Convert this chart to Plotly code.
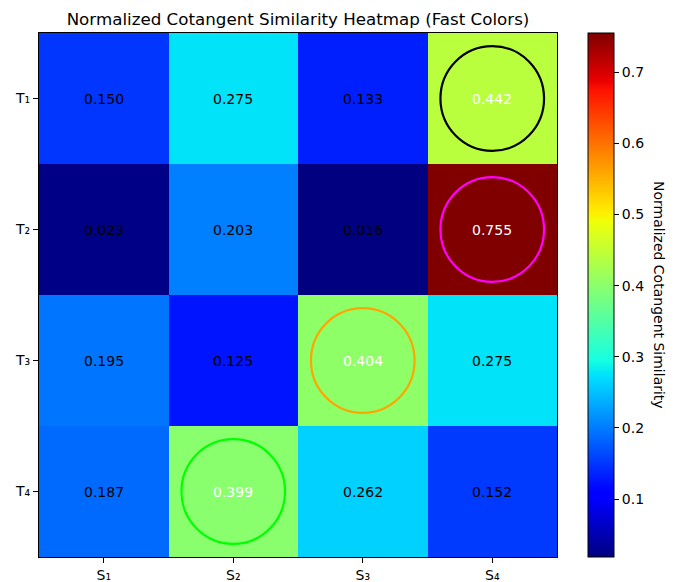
import plotly.graph_objects as go

# ---- data ----
rows = ["T₁", "T₂", "T₃", "T₄"]
cols = ["S₁", "S₂", "S₃", "S₄"]
row_T1 = [0.150, 0.275, 0.133, 0.442]
row_T2 = [0.023, 0.203, 0.016, 0.755]
row_T3 = [0.195, 0.125, 0.404, 0.275]
row_T4 = [0.187, 0.399, 0.262, 0.152]
values = [row_T1, row_T2, row_T3, row_T4]
circle_colors = ["black", "magenta", "orange", "lime"]
cbar_ticks = [0.1, 0.2, 0.3, 0.4, 0.5, 0.6, 0.7]
color_range = [0.0186, 0.755]

# ---- matplotlib 'jet' colormap as a plotly colorscale ----
seg = {
    "r": [(0, 0), (0.35, 0), (0.66, 1), (0.89, 1), (1, 0.5)],
    "g": [(0, 0), (0.125, 0), (0.375, 1), (0.64, 1), (0.91, 0), (1, 0)],
    "b": [(0, 0.5), (0.11, 1), (0.34, 1), (0.65, 0), (1, 0)],
}


def interp(pts, t):
    for (x0, y0), (x1, y1) in zip(pts[:-1], pts[1:]):
        if x0 <= t <= x1:
            return y0 + (y1 - y0) * (t - x0) / (x1 - x0) if x1 > x0 else y1
    return pts[-1][1]


stops = sorted({p[0] for ch in seg.values() for p in ch})
jet = [[t, "rgb(%d,%d,%d)" % tuple(round(255 * interp(seg[c], t)) for c in "rgb")] for t in stops]

xi = list(range(len(cols)))
yi = list(range(len(rows)))

fig = go.Figure(
    go.Heatmap(
        z=values,
        x=xi,
        y=yi,
        colorscale=jet,
        zmin=color_range[0],
        zmax=color_range[1],
        colorbar=dict(
            thickness=26,
            len=1,
            lenmode="fraction",
            x=1.06,
            xanchor="left",
            y=0.5,
            yanchor="middle",
            outlinecolor="black",
            outlinewidth=1,
            tickvals=cbar_ticks,
            ticktext=["%.1f" % v for v in cbar_ticks],
            ticks="outside",
            ticklen=5,
            tickcolor="black",
            tickfont=dict(size=14, color="black"),
            xpad=0,
            ypad=0,
        ),
        showscale=True,
        hoverongaps=False,
    )
)

annotations = []
shapes = []
for r, row in enumerate(values):
    mx = max(row)
    for c, v in enumerate(row):
        is_max = v == mx
        annotations.append(
            dict(
                x=c, y=r, xref="x", yref="y", text="%.3f" % v, showarrow=False,
                font=dict(size=14, color="white" if is_max else "black"),
            )
        )
        if is_max:
            shapes.append(
                dict(
                    type="circle", xref="x", yref="y",
                    x0=c - 0.4, x1=c + 0.4, y0=r - 0.4, y1=r + 0.4,
                    line=dict(color=circle_colors[r], width=2.2),
                )
            )

annotations.append(
    dict(
        x=(659 - 39) / 518, y=0.5, xref="paper", yref="paper", xanchor="center", yanchor="middle",
        text="Normalized Cotangent Similarity",
        showarrow=False, textangle=90, font=dict(size=14, color="black"),
    )
)

fig.update_layout(
    width=681,
    height=582,
    margin=dict(l=39, r=124, t=33, b=25, autoexpand=False),
    paper_bgcolor="white",
    plot_bgcolor="white",
    font=dict(family="DejaVu Sans", color="black"),
    title=dict(
        text="Normalized Cotangent Similarity Heatmap (Fast Colors)",
        x=(39 + 557) / 2 / 681, xanchor="center", y=1 - 19 / 582, yanchor="middle",
        font=dict(size=16.7, color="black"),
    ),
    annotations=annotations,
    shapes=shapes,
)

fig.update_xaxes(
    range=[-0.5, 3.5], tickvals=xi, ticktext=cols, ticks="outside", ticklen=5,
    tickcolor="black", showline=True, linecolor="black", linewidth=1, mirror=True,
    showgrid=False, zeroline=False, tickfont=dict(size=14), automargin=False,
)
fig.update_yaxes(
    range=[3.5, -0.5], tickvals=yi, ticktext=rows, ticks="outside", ticklen=5,
    tickcolor="black", showline=True, linecolor="black", linewidth=1, mirror=True,
    showgrid=False, zeroline=False, tickfont=dict(size=14), automargin=False,
)

fig.write_html("out.html")
